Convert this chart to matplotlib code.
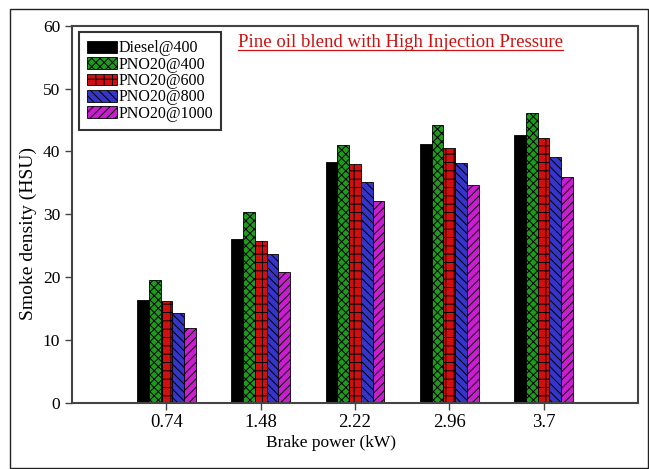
import matplotlib
matplotlib.use("Agg")
import matplotlib.pyplot as plt
import numpy as np
from matplotlib.patches import Rectangle

plt.rcParams['font.family'] = ['Liberation Serif', 'DejaVu Serif']
plt.rcParams['hatch.linewidth'] = 0.7

# Data
power = ['0.74', '1.48', '2.22', '2.96', '3.7']
diesel_400 = [16.4, 26.1, 38.4, 41.2, 42.6]
pno20_400 = [19.5, 30.3, 41.1, 44.2, 46.1]
pno20_600 = [16.2, 25.8, 38.0, 40.6, 42.1]
pno20_800 = [14.3, 23.7, 35.2, 38.1, 39.2]
pno20_1000 = [11.9, 20.8, 32.1, 34.7, 35.9]

series = [
    ('Diesel@400', diesel_400, '#000000', None),
    ('PNO20@400', pno20_400, '#1f9a1f', 'xxxx'),
    ('PNO20@600', pno20_600, '#d01010', '++'),
    ('PNO20@800', pno20_800, '#3535c8', '\\\\\\\\'),
    ('PNO20@1000', pno20_1000, '#c81ed0', '////'),
]

fig = plt.figure(figsize=(6.49, 4.69), dpi=100)
ax = fig.add_axes([0.111, 0.141, 0.872, 0.804])

x = np.arange(1, len(power) + 1)
w = 0.124
for i, (name, vals, col, hatch) in enumerate(series):
    ax.bar(x + (i - 2) * w, vals, width=w, color=col, edgecolor='black',
           linewidth=0.6, hatch=hatch, label=name)

ax.set_xlim(0, 6)
ax.set_ylim(0, 60)
ax.set_xticks(x)
ax.set_xticklabels(power, fontsize=13.5)
ax.set_yticks(np.arange(0, 61, 10))
ax.tick_params(axis='y', labelsize=12.5, direction='out', length=5, width=1, color='#444444')
ax.tick_params(axis='x', direction='out', length=5, width=1, color='#444444', pad=3)
for s in ax.spines.values():
    s.set_color('#444444')
    s.set_linewidth(1.5)

ax.set_xlabel('Brake power (kW)', fontsize=12.5, labelpad=5)
ax.xaxis.set_label_coords(0.458, -0.085)
ax.set_ylabel('Smoke density (HSU)', fontsize=14)
ax.yaxis.set_label_coords(-0.062, 0.45)

leg = ax.legend(loc='upper left', bbox_to_anchor=(0.004, 0.995), fontsize=11.5,
                frameon=True, fancybox=False, edgecolor='black',
                handlelength=1.9, handleheight=0.75, handletextpad=0.05,
                labelspacing=0.02, borderpad=0.5, borderaxespad=0.3)
leg.get_frame().set_linewidth(1.5)

ax.text(0.58, 0.955, 'Pine oil blend with High Injection Pressure',
        transform=ax.transAxes, ha='center', va='center', fontsize=13.5,
        color='#cc1111')
# underline for the title text
fig.canvas.draw()
t = ax.texts[-1]
bb = t.get_window_extent().transformed(fig.transFigure.inverted())
fig.add_artist(plt.Line2D([bb.x0, bb.x1], [bb.y0 + 0.002, bb.y0 + 0.002],
                          transform=fig.transFigure, color='#cc1111', linewidth=0.9))

# outer frame around the figure
fig.add_artist(Rectangle((10 / 649, 1 / 469), 638 / 649, 459 / 469,
                         transform=fig.transFigure, fill=False,
                         edgecolor='#222222', linewidth=1.0))

fig.savefig('out.png', dpi=100)
